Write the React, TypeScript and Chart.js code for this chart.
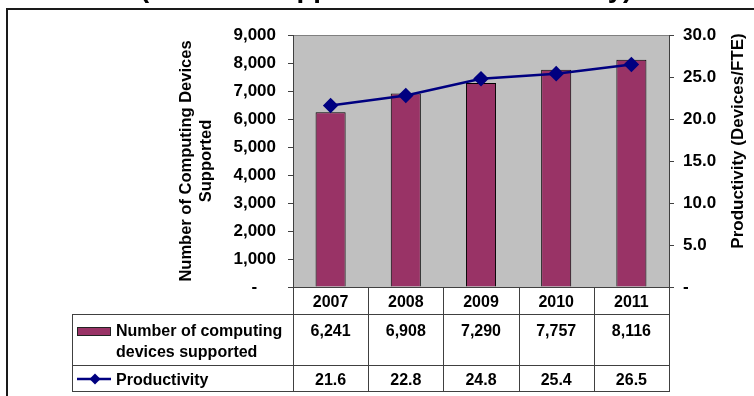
import React, { useEffect, useRef } from "react";
import { Chart, registerables } from "chart.js";

Chart.register(...registerables);

const categories = ["2007", "2008", "2009", "2010", "2011"];
const devices = [6241, 6908, 7290, 7757, 8116];
const productivity = [21.6, 22.8, 24.8, 25.4, 26.5];
const chartTitle = "(Devices Supported and Productivity)";
const leftAxisTitle = ["Number of Computing Devices", "Supported"];
const rightAxisTitle = "Productivity (Devices/FTE)";
const devicesLabel = ["Number of computing", "devices supported"];
const productivityLabel = "Productivity";

const FAMILY = '"Liberation Sans", Arial, Helvetica, sans-serif';
const BAR_COLOR = "#993366";
const LINE_COLOR = "#000080";
const GRID_DARK = "#404040";

const fmtInt = (v: number) => v.toLocaleString("en-US");

const tablePlugin = {
  id: "tableAndFrame",
  beforeDraw(chart: any) {
    const { ctx, chartArea: ca } = chart;
    ctx.save();
    ctx.fillStyle = "#C0C0C0";
    ctx.fillRect(ca.left, ca.top, ca.right - ca.left, ca.bottom - ca.top);
    ctx.strokeStyle = "#808080";
    ctx.lineWidth = 1;
    ctx.beginPath();
    ctx.moveTo(ca.left, Math.round(ca.top) + 0.5);
    ctx.lineTo(ca.right, Math.round(ca.top) + 0.5);
    ctx.stroke();
    ctx.restore();
  },
  afterDraw(chart: any) {
    const { ctx, chartArea: ca } = chart;
    const xs = chart.scales.x;
    ctx.save();

    // outer frame
    ctx.strokeStyle = "#1a1a1a";
    ctx.lineWidth = 2;
    ctx.beginPath();
    ctx.moveTo(7, 420);
    ctx.lineTo(7, 9);
    ctx.lineTo(780, 9);
    ctx.stroke();

    // clipped title
    ctx.fillStyle = "#000";
    ctx.font = `bold 27.6px ${FAMILY}`;
    ctx.textAlign = "left";
    ctx.textBaseline = "alphabetic";
    ctx.fillText(chartTitle, 140, -3.5);

    // left axis title
    ctx.font = `bold 16.5px ${FAMILY}`;
    ctx.textAlign = "center";
    ctx.textBaseline = "middle";
    ctx.save();
    ctx.translate(196, (ca.top + ca.bottom) / 2);
    ctx.rotate(-Math.PI / 2);
    ctx.fillText(leftAxisTitle[0], 0, -10);
    ctx.fillText(leftAxisTitle[1], 0, 10);
    ctx.restore();

    // right axis title
    ctx.font = `bold 17px ${FAMILY}`;
    ctx.save();
    ctx.translate(738, 141);
    ctx.rotate(-Math.PI / 2);
    ctx.fillText(rightAxisTitle, 0, 0);
    ctx.restore();

    // data table
    const n = categories.length;
    const colW = (ca.right - ca.left) / n;
    const y0 = ca.bottom;
    const y1 = 314;
    const y2 = 365;
    const y3 = 391;
    const L = 72;
    ctx.strokeStyle = GRID_DARK;
    ctx.lineWidth = 1;
    ctx.beginPath();
    [y1, y2, y3].forEach((y) => {
      ctx.moveTo(L, y + 0.5);
      ctx.lineTo(ca.right + 1, y + 0.5);
    });
    for (let i = 0; i <= n; i++) {
      const bx = Math.round(ca.left + i * colW) + 0.5;
      ctx.moveTo(bx, y0);
      ctx.lineTo(bx, y3 + 1);
    }
    ctx.moveTo(L + 0.5, y1);
    ctx.lineTo(L + 0.5, y3 + 1);
    ctx.stroke();

    ctx.fillStyle = "#000";
    ctx.font = `bold 16px ${FAMILY}`;
    ctx.textAlign = "center";
    ctx.textBaseline = "alphabetic";
    categories.forEach((c, i) => {
      const cx = xs.getPixelForValue(i);
      ctx.fillText(c, cx, 307);
      ctx.fillText(fmtInt(devices[i]), cx, 336);
      ctx.fillText(productivity[i].toFixed(1), cx, 385);
    });

    // legend keys
    ctx.fillStyle = BAR_COLOR;
    ctx.fillRect(77, 327, 34, 9);
    ctx.strokeStyle = "#222";
    ctx.lineWidth = 1;
    ctx.strokeRect(77.5, 327.5, 33, 8);

    ctx.strokeStyle = LINE_COLOR;
    ctx.lineWidth = 2.5;
    ctx.beginPath();
    ctx.moveTo(77, 379);
    ctx.lineTo(111, 379);
    ctx.stroke();
    ctx.fillStyle = LINE_COLOR;
    ctx.beginPath();
    ctx.moveTo(95, 373.5);
    ctx.lineTo(100.5, 379);
    ctx.lineTo(95, 384.5);
    ctx.lineTo(89.5, 379);
    ctx.closePath();
    ctx.fill();

    ctx.fillStyle = "#000";
    ctx.textAlign = "left";
    ctx.fillText(devicesLabel[0], 116, 336);
    ctx.fillText(devicesLabel[1], 116, 357);
    ctx.fillText(productivityLabel, 116, 385);

    ctx.restore();
  },
};

export default function App() {
  const canvasRef = useRef<HTMLCanvasElement | null>(null);

  useEffect(() => {
    if (!canvasRef.current) return;
    const chart = new Chart(canvasRef.current, {
      type: "bar",
      data: {
        labels: categories,
        datasets: [
          {
            type: "line",
            label: productivityLabel,
            data: productivity,
            yAxisID: "y1",
            borderColor: LINE_COLOR,
            backgroundColor: LINE_COLOR,
            borderWidth: 2.5,
            pointStyle: "rectRot",
            pointRadius: 6,
            pointBackgroundColor: LINE_COLOR,
            pointBorderColor: LINE_COLOR,
            tension: 0,
            order: 0,
          } as any,
          {
            type: "bar",
            label: devicesLabel.join(" "),
            data: devices,
            yAxisID: "y",
            backgroundColor: BAR_COLOR,
            borderColor: "#000",
            borderWidth: 1,
            barPercentage: 0.4,
            categoryPercentage: 1,
            order: 1,
          },
        ],
      },
      options: {
        animation: false,
        responsive: true,
        maintainAspectRatio: false,
        layout: { padding: { top: 35, left: 0, right: 0, bottom: 0 } },
        plugins: {
          legend: { display: false },
          title: { display: false },
          tooltip: { enabled: false },
        },
        scales: {
          x: {
            offset: true,
            grid: { display: false },
            ticks: { display: false },
            border: { display: true, color: GRID_DARK, width: 1 },
            afterFit: (s: any) => {
              s.height = 109;
            },
          },
          y: {
            position: "left",
            min: 0,
            max: 9000,
            ticks: {
              stepSize: 1000,
              padding: 12,
              color: "#000",
              font: { family: FAMILY, size: 17, weight: "bold" },
              callback: (v: any) => (Number(v) === 0 ? "-    " : fmtInt(Number(v))),
            },
            grid: {
              display: true,
              drawOnChartArea: false,
              drawTicks: true,
              tickLength: 5,
              tickColor: GRID_DARK,
              color: GRID_DARK,
            },
            border: { display: true, color: GRID_DARK, width: 1 },
            afterFit: (s: any) => {
              s.width = 293;
            },
          },
          y1: {
            position: "right",
            min: 0,
            max: 30,
            ticks: {
              stepSize: 5,
              padding: 9,
              color: "#000",
              font: { family: FAMILY, size: 17, weight: "bold" },
              callback: (v: any) => (Number(v) === 0 ? "-" : Number(v).toFixed(1)),
            },
            grid: {
              display: true,
              drawOnChartArea: false,
              drawTicks: true,
              tickLength: 5,
              tickColor: GRID_DARK,
              color: GRID_DARK,
            },
            border: { display: true, color: GRID_DARK, width: 1 },
            afterFit: (s: any) => {
              s.width = 85;
            },
          },
        },
      },
      plugins: [tablePlugin],
    });
    return () => chart.destroy();
  }, []);

  return (
    <div
      style={{
        position: "fixed",
        left: 0,
        top: 0,
        width: 754,
        height: 396,
        background: "#fff",
      }}
    >
      <canvas ref={canvasRef} />
    </div>
  );
}
